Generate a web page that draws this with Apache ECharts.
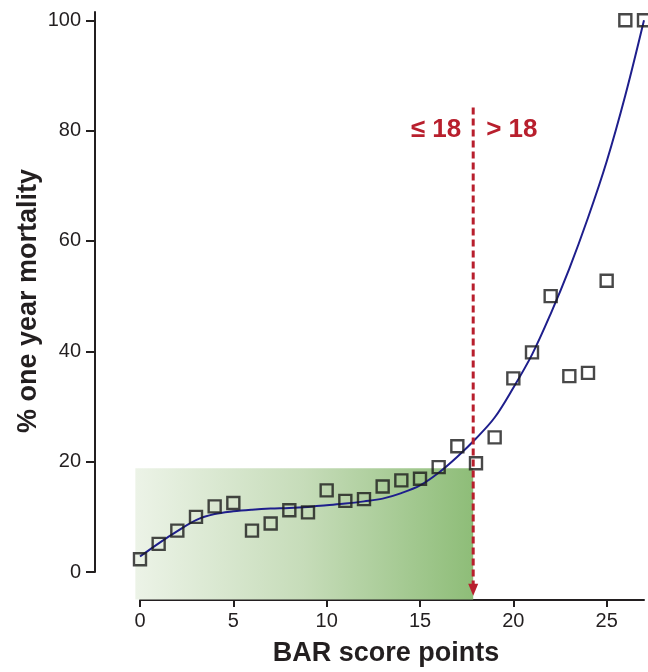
<!DOCTYPE html>
<html>
<head>
<meta charset="utf-8">
<title>BAR score vs one year mortality</title>
<script src="https://cdn.jsdelivr.net/npm/echarts@6.0.0/dist/echarts.min.js"></script>
<style>
  html, body { margin: 0; padding: 0; background: #fff; }
  #chart { width: 648px; height: 672px; }
</style>
</head>
<body>
<div id="chart"></div>
<script>
// observed points (open squares)
const barScore = [0, 1, 2, 3, 4, 5, 6, 7, 8, 9, 10, 11, 12, 13, 14, 15, 16, 17, 18, 19, 20, 21, 22, 23, 24, 25, 26, 27];
const mortality = [2.3, 5.1, 7.5, 10.0, 11.9, 12.5, 7.5, 8.8, 11.2, 10.8, 14.8, 12.9, 13.2, 15.5, 16.6, 16.9, 19.0, 22.8, 19.7, 24.4, 35.1, 39.8, 50.0, 35.5, 36.1, 52.8, 100, 100];

// fitted curve
const fitScore = [0, 1, 2, 3, 4, 5, 6, 7, 8, 9, 10, 11, 12, 13, 14, 15, 16, 17, 18, 19, 20, 21, 22, 23, 24, 25, 26, 27];
const fitMortality = [2.8, 5.2, 7.4, 9.4, 10.5, 11.0, 11.3, 11.5, 11.6, 11.8, 12.1, 12.4, 12.8, 13.3, 14.3, 15.7, 18.0, 20.9, 24.2, 28.0, 33.4, 39.4, 46.8, 55.0, 64.2, 74.4, 86.4, 100];

// shaded low-risk zone and cut-off arrow
const shadeFrom = -0.25;
const shadeTo = 17.85;
const shadeTop = 18.8;
const axisFloor = -5;
const cutoff = 17.85;
const cutoffTop = 84.2;
const cutoffTip = -4.3;
const cutoffLabelY = 80.2;
const cutoffLabels = ['≤ 18', '> 18'];

const xTicks = [0, 5, 10, 15, 20, 25];
const yTicks = [0, 20, 40, 60, 80, 100];

const red = '#b81f2d';
const ink = '#231f20';
const font = '"Liberation Sans", Arial, Helvetica, sans-serif';

let myChart = echarts.init(document.getElementById('chart'), null, { renderer: 'canvas' });

let option = {
  backgroundColor: '#fff',
  animation: false,
  grid: { left: 140, right: 4, top: 12, bottom: 97 },
  xAxis: {
    type: 'value',
    min: 0,
    max: 27,
    offset: 28,
    splitLine: { show: false },
    axisLine: { show: true, onZero: false, lineStyle: { color: ink, width: 2 } },
    axisTick: { show: true, length: 7, lineStyle: { color: ink, width: 2 }, customValues: xTicks },
    axisLabel: { color: ink, fontSize: 20, fontFamily: font, margin: 11, customValues: xTicks },
    name: 'BAR score points',
    nameLocation: 'middle',
    nameGap: 40,
    nameTextStyle: { color: ink, fontSize: 27, fontWeight: 'bold', fontFamily: font, padding: [0, 12, 0, 0] }
  },
  yAxis: {
    type: 'value',
    min: 0,
    max: 101.5,
    offset: 45,
    splitLine: { show: false },
    axisLine: { show: true, onZero: false, lineStyle: { color: ink, width: 2 } },
    axisTick: { show: true, length: 9, lineStyle: { color: ink, width: 2 }, customValues: yTicks },
    axisLabel: { color: ink, fontSize: 20, fontFamily: font, margin: 14, customValues: yTicks },
    name: '% one year mortality',
    nameLocation: 'middle',
    nameGap: 53,
    nameMoveOverlap: false,
    nameTextStyle: { color: ink, fontSize: 27, fontWeight: 'bold', fontFamily: font, padding: [0, 18, 0, 0] }
  },
  series: [
    {
      // green gradient box for BAR <= 18
      type: 'custom',
      z: 1,
      silent: true,
      data: [[shadeFrom, axisFloor, shadeTo, shadeTop]],
      renderItem: function (params, api) {
        let p0 = api.coord([api.value(0), api.value(3)]);
        let p1 = api.coord([api.value(2), api.value(1)]);
        return {
          type: 'rect',
          shape: { x: p0[0], y: p0[1], width: p1[0] - p0[0], height: p1[1] - p0[1] },
          style: {
            fill: new echarts.graphic.LinearGradient(0, 0, 1, 0, [
              { offset: 0, color: '#ecf3e7' },
              { offset: 0.5, color: '#c6dcb9' },
              { offset: 1, color: '#8ebd78' }
            ])
          }
        };
      }
    },
    {
      type: 'line',
      z: 3,
      data: fitScore.map((x, i) => [x, fitMortality[i]]),
      smooth: 0.35,
      symbol: 'none',
      clip: false,
      lineStyle: { color: '#1e1e8c', width: 2 }
    },
    {
      type: 'scatter',
      z: 4,
      data: barScore.map((x, i) => [x, mortality[i]]),
      symbol: 'rect',
      symbolSize: 12,
      clip: false,
      itemStyle: { color: 'rgba(0,0,0,0)', borderColor: '#1a1a1a', borderWidth: 2.4 }
    },
    {
      // dashed cut-off arrow with labels
      type: 'custom',
      z: 5,
      silent: true,
      data: [[cutoff, cutoffTop, cutoffTip, cutoffLabelY]],
      renderItem: function (params, api) {
        let top = api.coord([api.value(0), api.value(1)]);
        let tip = api.coord([api.value(0), api.value(2)]);
        let lab = api.coord([api.value(0), api.value(3)]);
        return {
          type: 'group',
          children: [
            {
              type: 'line',
              shape: { x1: top[0], y1: top[1], x2: tip[0], y2: tip[1] - 10 },
              style: { stroke: red, lineWidth: 3, lineDash: [7, 4] }
            },
            {
              type: 'polygon',
              shape: { points: [[tip[0] - 5, tip[1] - 12], [tip[0] + 5, tip[1] - 12], [tip[0], tip[1]]] },
              style: { fill: red }
            },
            {
              type: 'text',
              x: lab[0] - 12,
              y: lab[1],
              style: { text: cutoffLabels[0], align: 'right', verticalAlign: 'middle', fill: red, font: 'bold 26px ' + font }
            },
            {
              type: 'text',
              x: lab[0] + 13,
              y: lab[1],
              style: { text: cutoffLabels[1], align: 'left', verticalAlign: 'middle', fill: red, font: 'bold 26px ' + font }
            }
          ]
        };
      }
    }
  ]
};

myChart.setOption(option);
</script>
</body>
</html>
